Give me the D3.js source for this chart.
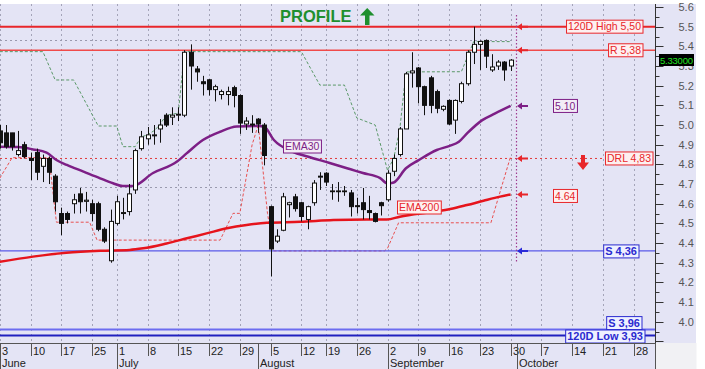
<!DOCTYPE html>
<html><head><meta charset="utf-8">
<script src="https://cdn.jsdelivr.net/npm/d3@7"></script>
<style>body{margin:0;background:#fff}svg{display:block;font-family:"Liberation Sans",Arial,sans-serif}</style>
</head><body><svg id="c" width="705" height="369"></svg>
<script>
// ---------- DATA ----------
const openP  = [4.97,4.96,4.96,4.85,4.90,4.83,4.86,4.79,4.83,4.74,4.55,4.55,4.60,4.65,4.612,4.60,4.60,4.47,4.31,4.50,4.55,4.56,4.67,4.88,4.93,4.945,4.98,5.05,5.04,5.05,5.05,5.37,5.285,5.22,5.23,5.18,5.155,5.155,5.19,5.15,5.005,5.005,5.03,5.00,4.585,4.41,4.465,4.595,4.635,4.605,4.52,4.605,4.735,4.755,4.665,4.665,4.665,4.655,4.59,4.605,4.565,4.55,4.605,4.62,4.765,4.85,4.98,5.265,5.29,5.195,5.24,5.17,5.08,5.125,5.025,5.12,5.21,5.37,5.41,5.43,5.28,5.30,5.32,5.30];
const highP  = [5.00,5.00,4.96,4.97,4.915,4.86,4.88,4.85,4.84,4.75,4.58,4.56,4.65,4.68,4.66,4.62,4.61,4.48,4.57,4.64,4.63,4.70,4.88,4.97,4.99,5.00,5.03,5.06,5.09,5.09,5.38,5.41,5.30,5.25,5.235,5.205,5.18,5.195,5.20,5.155,5.04,5.05,5.035,5.01,4.59,4.47,4.655,4.61,4.65,4.61,4.59,4.72,4.76,4.76,4.70,4.71,4.69,4.67,4.63,4.68,4.64,4.555,4.61,4.77,4.85,4.99,5.27,5.37,5.295,5.20,5.25,5.18,5.10,5.13,5.13,5.22,5.38,5.50,5.43,5.435,5.36,5.33,5.325,5.335];
const lowP   = [4.88,4.88,4.87,4.84,4.83,4.72,4.72,4.71,4.70,4.56,4.44,4.50,4.55,4.55,4.56,4.51,4.46,4.40,4.30,4.49,4.52,4.54,4.65,4.87,4.90,4.90,4.91,4.99,5.00,5.02,5.04,5.18,5.22,5.15,5.15,5.12,5.13,5.10,5.09,4.955,4.975,4.96,4.96,4.795,4.23,4.40,4.46,4.53,4.56,4.51,4.47,4.59,4.67,4.69,4.62,4.61,4.64,4.535,4.55,4.52,4.52,4.505,4.54,4.61,4.74,4.84,4.98,5.19,5.11,5.05,5.06,5.06,5.07,5.00,4.955,5.11,5.20,5.31,5.28,5.29,5.27,5.28,5.225,5.275];
const closeP = [4.91,4.89,4.89,4.87,4.84,4.82,4.76,4.83,4.76,4.61,4.50,4.52,4.62,4.61,4.618,4.55,4.47,4.41,4.51,4.61,4.555,4.65,4.87,4.94,4.95,4.95,5.00,5.00,5.05,5.055,5.37,5.30,5.27,5.21,5.18,5.195,5.17,5.17,5.15,5.01,5.02,5.00,5.005,4.845,4.37,4.435,4.635,4.605,4.575,4.535,4.585,4.705,4.74,4.71,4.665,4.665,4.665,4.585,4.585,4.57,4.555,4.51,4.59,4.755,4.83,4.98,5.26,5.275,5.195,5.10,5.10,5.085,5.095,5.005,5.125,5.21,5.37,5.41,5.425,5.35,5.295,5.32,5.28,5.33];

const ema30Idx = [0,3,5.4,7.6,9.2,10.9,13.6,16.3,18.4,20,21.6,24.9,28.8,30.4,33,35.8,38.5,42,43,44.5,47.6,50,53.6,57,59,61.8,63,64,66,68,71,73,74.6,76,78.4,80.5,83];
const ema30Val = [4.89,4.888,4.876,4.86,4.822,4.797,4.763,4.729,4.704,4.69,4.69,4.756,4.814,4.857,4.924,4.966,4.992,4.995,4.99,4.925,4.864,4.84,4.807,4.775,4.756,4.73,4.703,4.708,4.78,4.82,4.873,4.893,4.915,4.96,5.025,5.059,5.097];
const ema200Idx = [0,5.4,10.8,16.3,21.1,23.3,27.1,30.4,33.6,36.9,40.1,43.4,48.8,54.2,59.6,62.9,65,70.4,73.2,75.9,78.6,81.3,83];
const ema200Val = [4.305,4.331,4.351,4.361,4.365,4.373,4.398,4.424,4.449,4.475,4.492,4.503,4.508,4.517,4.52,4.52,4.534,4.559,4.573,4.593,4.615,4.636,4.647];
const upperIdx = [0,7,9,12,16,19,20,22,23,24,25,26,27,29,30,49,52,56,58,61,63,64,65,66,75,77,83];
const upperVal = [5.373,5.373,5.229,5.229,4.995,4.995,4.89,4.89,4.94,4.95,4.97,5.0,5.05,5.06,5.373,5.373,5.203,5.203,5.036,5.0,4.77,4.83,4.98,5.27,5.271,5.424,5.424];
const lowerIdx = [0,2,8,9.2,14.6,15.8,35.8,37.9,39,41,42,43.5,44.5,62.5,63,64.8,79.8,83];
const lowerVal = [4.73,4.834,4.834,4.506,4.506,4.415,4.415,4.551,4.551,4.90,5.0,4.55,4.36,4.36,4.373,4.503,4.503,4.84];

const levelText  = ["120D High 5,50","R 5,38","DRL 4,83","S 4,36","S 3,96","120D Low 3,93"];
const levelValue = [5.50,5.38,4.83,4.36,3.96,3.93];
const emaTagText = ["5.10","4.64"];
const emaTagValue = [5.097,4.647];
const lastPrice = "5.33000";

const weekLabels = ["3","10","17","25","1","8","15","22","29","5","12","19","26","2","9","16","23","30","7","14","21","28"];
const weekIdx    = [0,5,10,15,19,24,29,34,39,44,49,53,58,63,68,73,78,83,88,93,98,103];
const monthLabels = ["June","July","August","September","October"];
const monthIdx    = [0,19,42,63,84];
const yTicks = d3.range(40,57).map(d=>d/10);

// ---------- LAYOUT ----------
const svg=d3.select("#c");
const plotR=655.5, plotT=4, plotB=343;
const lav="#e4e4f5";
const x=d3.scaleLinear().domain([0,83]).range([-0.2,510.6]);
const y=d3.scaleLinear().domain([3.9,5.6]).range([341.4,7]);
const RED="#e8262a", PURP="#7d1f86", BLUE="#2a2ad0", GREEN="#1f8f2f";

svg.append("rect").attr("width",705).attr("height",369).attr("fill","#fff");
svg.append("rect").attr("x",0).attr("y",plotT).attr("width",696).attr("height",plotB-plotT).attr("fill",lav);
svg.append("rect").attr("x",0).attr("y",plotB).attr("width",plotR).attr("height",369-plotB).attr("fill",lav);
svg.append("rect").attr("x",plotR).attr("y",plotB).attr("width",41).attr("height",369-plotB).attr("fill","#f1f1f4");

svg.append("defs").append("clipPath").attr("id","clip").append("rect")
  .attr("x",0).attr("y",plotT).attr("width",plotR).attr("height",plotB-plotT);
const g=svg.append("g").attr("clip-path","url(#clip)");

// vertical grid
g.selectAll(".vg").data(weekIdx).enter().append("line")
  .attr("x1",d=>Math.round(x(d))+0.5).attr("x2",d=>Math.round(x(d))+0.5)
  .attr("y1",plotT).attr("y2",plotB).attr("stroke","#a4a4b8").attr("stroke-dasharray","2,3");
// gray dotted horizontals
[5.432,4.686].forEach(v=>g.append("line").attr("x1",0).attr("x2",515).attr("y1",Math.round(y(v))+0.5).attr("y2",Math.round(y(v))+0.5)
  .attr("stroke","#9a9aae").attr("stroke-dasharray","2,3"));

const line=d3.line().x(d=>x(d[0])).y(d=>y(d[1]));
const zip=(a,b)=>a.map((d,i)=>[d,b[i]]);

// level lines
g.append("line").attr("x1",0).attr("x2",plotR).attr("y1",y(5.50)).attr("y2",y(5.50)).attr("stroke",RED).attr("stroke-width",2);
g.append("line").attr("x1",0).attr("x2",plotR).attr("y1",y(5.38)).attr("y2",y(5.38)).attr("stroke","#f04a4a").attr("stroke-width",1.5);
g.append("line").attr("x1",0).attr("x2",606).attr("y1",y(4.83)).attr("y2",y(4.83)).attr("stroke","#e03a3a").attr("stroke-dasharray","2,3");

// channel lines
g.append("path").attr("d",line(zip(upperIdx,upperVal))).attr("fill","none").attr("stroke","#5a9868").attr("stroke-dasharray","3,2");
g.append("path").attr("d",line(zip(lowerIdx,lowerVal))).attr("fill","none").attr("stroke","#e85050").attr("stroke-dasharray","3,2");

g.append("line").attr("x1",0).attr("x2",plotR).attr("y1",y(4.36)).attr("y2",y(4.36)).attr("stroke","#5a5ae8").attr("stroke-width",1.3);
g.append("line").attr("x1",0).attr("x2",plotR).attr("y1",y(3.96)).attr("y2",y(3.96)).attr("stroke","#6c6cf0").attr("stroke-width",2);
g.append("line").attr("x1",0).attr("x2",plotR).attr("y1",y(3.93)).attr("y2",y(3.93)).attr("stroke","#2020c0").attr("stroke-width",2);

// EMAs
const cl=d3.line().x(d=>x(d[0])).y(d=>y(d[1])).curve(d3.curveMonotoneX);
g.append("path").attr("d",cl(zip(ema200Idx,ema200Val))).attr("fill","none").attr("stroke","#e6141c").attr("stroke-width",2.5);
g.append("path").attr("d",cl(zip(ema30Idx,ema30Val))).attr("fill","none").attr("stroke",PURP).attr("stroke-width",2.5);

// candles
const cand=openP.map((o,i)=>({i,o,h:highP[i],l:lowP[i],c:closeP[i]}));
const cg=g.append("g");
cg.selectAll(".w").data(cand).enter().append("line")
  .attr("x1",d=>Math.round(x(d.i))+0.5).attr("x2",d=>Math.round(x(d.i))+0.5)
  .attr("y1",d=>y(d.h)).attr("y2",d=>y(d.l)).attr("stroke","#111").attr("stroke-width",1);
cg.selectAll(".b").data(cand).enter().append("rect")
  .attr("x",d=>Math.round(x(d.i))-1.5).attr("width",4)
  .attr("y",d=>y(Math.max(d.o,d.c))).attr("height",d=>Math.max(0.8,Math.abs(y(d.o)-y(d.c))))
  .attr("fill",d=>d.c<d.o?"#111":"#fff").attr("stroke","#111").attr("stroke-width",1);

// purple "today" line
svg.append("line").attr("x1",516.5).attr("x2",516.5).attr("y1",15).attr("y2",262)
  .attr("stroke","#a03c90").attr("stroke-width",1.2).attr("stroke-dasharray","1.5,2");

// left arrows at right of price area
function leftArrow(yc,col){
  const xt=517;
  svg.append("path").attr("d",`M${xt},${yc} L${xt+5},${yc-3.5} L${xt+5},${yc-1} L${xt+11},${yc-1} L${xt+11},${yc+1} L${xt+5},${yc+1} L${xt+5},${yc+3.5} Z`).attr("fill",col);
}
leftArrow(y(5.50),RED); leftArrow(y(5.38),RED); leftArrow(y(emaTagValue[0]),PURP);
leftArrow(y(4.83),RED); leftArrow(y(emaTagValue[1]),RED); leftArrow(y(4.36),"#2a2ad8");

// label box helper
function box(txt,xpos,yc,col,fill,anchor,bold,size){
  const gg=svg.append("g");
  const t=gg.append("text").text(txt).attr("font-size",size||10.5).attr("fill",col)
    .attr("font-weight",bold?"bold":"normal").attr("y",yc+3.8);
  const w=t.node().getComputedTextLength();
  const x0= anchor==="end"? xpos-w-4 : xpos;
  t.attr("x",x0+2);
  gg.insert("rect","text").attr("x",x0+0.5).attr("y",yc-6.5).attr("width",w+3.5).attr("height",13)
    .attr("fill",fill).attr("stroke",col).attr("stroke-width",1);
}
const levelRight=[643,643,653,639,642,645];
const levelCol=[RED,RED,RED,BLUE,BLUE,BLUE];
const levelYc=[y(5.50),y(5.38),y(4.83),y(4.36)+0.5,y(3.96)-6.5,y(3.93)+1];
levelText.forEach((t,i)=>{
  const isBlue=levelCol[i]===BLUE;
  box(t,levelRight[i],levelYc[i],levelCol[i],isBlue?"#eef0ff":"#fdf0f0","end",isBlue,isBlue?11:10.5);
});
box(emaTagText[0],553,y(emaTagValue[0]),PURP,"#f3ecf6","start",false,10.5);
box(emaTagText[1],553,y(emaTagValue[1])+1.5,RED,"#fdf0f0","start",false,10.5);
box("EMA30",283,146.5,PURP,"#f3ecf6","start",false,10.5);
box("EMA200",397,207.5,RED,"#fdf0f0","start",false,10.5);

// DRL down arrow
svg.append("path").attr("d","M581,155 L585,155 L585,162.5 L589,162.5 L583,170 L577,162.5 L581,162.5 Z").attr("fill",RED);

// PROFILE title
svg.append("text").attr("x",280).attr("y",22).attr("font-size",16.5).attr("font-weight","bold").attr("fill",GREEN).text("PROFILE");
svg.append("path").attr("d","M365,25 L369.5,25 L369.5,15.5 L374.5,15.5 L367.2,8 L360,15.5 L365,15.5 Z").attr("fill",GREEN);

// right axis
const ax=svg.append("g").attr("transform",`translate(${plotR},0)`);
ax.append("line").attr("x1",0).attr("x2",0).attr("y1",plotT).attr("y2",plotB).attr("stroke","#333");
const minor=d3.range(39*2,56*2+1).map(d=>d/20);
ax.selectAll(".mt").data(minor).enter().append("line").attr("x1",0).attr("x2",4)
  .attr("y1",d=>Math.round(y(d))+0.5).attr("y2",d=>Math.round(y(d))+0.5).attr("stroke","#333");
ax.selectAll(".Mt").data(yTicks.concat([3.9])).enter().append("line").attr("x1",0).attr("x2",8)
  .attr("y1",d=>Math.round(y(d))+0.5).attr("y2",d=>Math.round(y(d))+0.5).attr("stroke","#333");
ax.selectAll(".tl").data(yTicks).enter().append("text").attr("x",23).attr("y",d=>y(d)+4)
  .attr("font-size",11).attr("fill","#555").text(d=>d3.format(".1f")(d));

// last price tag
svg.append("rect").attr("x",659).attr("y",54).attr("width",35).attr("height",12).attr("fill","#000");
svg.append("text").attr("x",660).attr("y",63.5).attr("font-size",9.5).attr("fill","#22e022").attr("textLength",33).text(lastPrice);

// x axis
const xa=svg.append("g");
xa.append("line").attr("x1",0).attr("x2",plotR).attr("y1",plotB+0.5).attr("y2",plotB+0.5).attr("stroke","#555");
xa.append("line").attr("x1",plotR).attr("x2",plotR).attr("y1",plotB).attr("y2",369).attr("stroke","#555");
xa.selectAll(".wt").data(weekIdx).enter().append("line")
  .attr("x1",d=>Math.round(x(d))+0.5).attr("x2",d=>Math.round(x(d))+0.5).attr("y1",plotB).attr("y2",356).attr("stroke","#555");
xa.selectAll(".wl").data(weekIdx).enter().append("text")
  .attr("x",d=>Math.max(1,Math.round(x(d))+2)).attr("y",354.5).attr("font-size",11).attr("fill","#222")
  .text((d,i)=>weekLabels[i]);
xa.selectAll(".mtk").data(monthIdx).enter().append("line")
  .attr("x1",d=>Math.round(x(d))+0.5).attr("x2",d=>Math.round(x(d))+0.5).attr("y1",plotB).attr("y2",369).attr("stroke","#555");
xa.selectAll(".ml").data(monthIdx).enter().append("text")
  .attr("x",d=>Math.max(1,Math.round(x(d))+2)).attr("y",366.5).attr("font-size",11).attr("fill","#222")
  .text((d,i)=>monthLabels[i]);
</script></body></html>
